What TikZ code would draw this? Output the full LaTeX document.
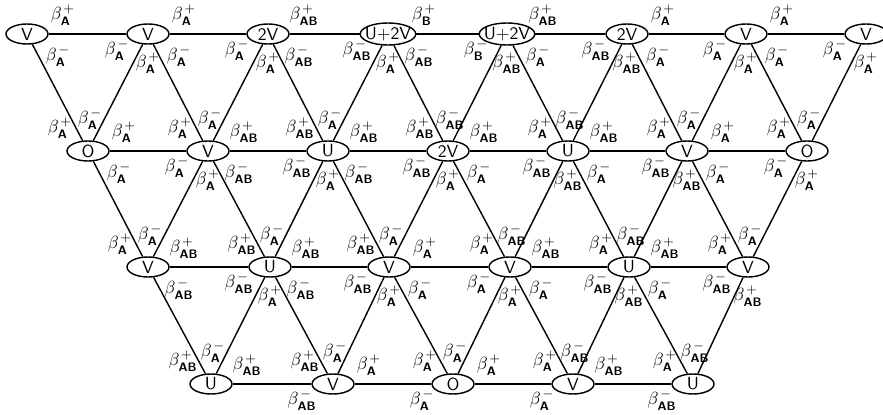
\documentclass[tikz,border=0pt]{standalone}
\usepackage{tikz}
\usepackage{amssymb}
\usepackage{amsmath}
\usetikzlibrary{shapes.geometric}
\newcommand{\blab}[2]{$\beta^{\mkern2mu#2}_{\textsf{\textbf{#1}}}$}

\begin{document}
\begin{tikzpicture}[x=0.02cm,y=-0.02cm,thick,
  st/.style={draw,ellipse,minimum width=0.84cm,minimum height=0.4cm,inner sep=0pt,font=\sffamily},
  wide/.style={st,inner xsep=-2pt,minimum width=1.1cm,minimum height=0.44cm},
  lab/.style={inner sep=0pt},
  lE/.style={lab,xshift=0.72cm,yshift=0.38cm},
  lNE/.style={lab,xshift=0.04cm,yshift=0.64cm},
  lNW/.style={lab,xshift=-0.56cm,yshift=0.46cm},
  lW/.style={lab,xshift=-0.62cm,yshift=-0.32cm},
  lSW/.style={lab,xshift=0cm,yshift=-0.58cm},
  lSE/.style={lab,xshift=0.62cm,yshift=-0.44cm}]
  \useasboundingbox (0,0) rectangle (883,415);
  \node[st]   (a1) at (27,34)  {V};
  \node[st]   (a2) at (148,34) {V};
  \node[st]   (a3) at (268,34) {2V};
  \node[wide] (a4) at (388,34) {U+2V};
  \node[wide] (a5) at (507,34) {U+2V};
  \node[st]   (a6) at (627,34) {2V};
  \node[st]   (a7) at (746,34) {V};
  \node[st]   (a8) at (866,34) {V};
  \node[st] (b1) at (88,151)  {O};
  \node[st] (b2) at (208,151) {V};
  \node[st] (b3) at (328,151) {U};
  \node[st] (b4) at (448,151) {2V};
  \node[st] (b5) at (568,151) {U};
  \node[st] (b6) at (687,151) {V};
  \node[st] (b7) at (807,151) {O};
  \node[st] (c1) at (148,267) {V};
  \node[st] (c2) at (270,267) {U};
  \node[st] (c3) at (389,267) {V};
  \node[st] (c4) at (510,267) {V};
  \node[st] (c5) at (629,267) {U};
  \node[st] (c6) at (748,267) {V};
  \node[st] (d1) at (211,384) {U};
  \node[st] (d2) at (333,384) {V};
  \node[st] (d3) at (453,384) {O};
  \node[st] (d4) at (573,384) {V};
  \node[st] (d5) at (693,384) {U};
  % rows
  \draw (a1) -- (a2) -- (a3) -- (a4) -- (a5) -- (a6) -- (a7) -- (a8);
  \draw (b1) -- (b2) -- (b3) -- (b4) -- (b5) -- (b6) -- (b7);
  \draw (c1) -- (c2) -- (c3) -- (c4) -- (c5) -- (c6);
  \draw (d1) -- (d2) -- (d3) -- (d4) -- (d5);
  % zigzags between rows
  \draw (a1) -- (b1) -- (a2) -- (b2) -- (a3) -- (b3) -- (a4) -- (b4) -- (a5) -- (b5) -- (a6) -- (b6) -- (a7) -- (b7) -- (a8);
  \draw (b1) -- (c1) -- (b2) -- (c2) -- (b3) -- (c3) -- (b4) -- (c4) -- (b5) -- (c5) -- (b6) -- (c6) -- (b7);
  \draw (c1) -- (d1) -- (c2) -- (d2) -- (c3) -- (d3) -- (c4) -- (d4) -- (c5) -- (d5) -- (c6);
  % end labels, top row
  \path (a1) node[lE] {\blab{A}{+}} node[lSE] {\blab{A}{-}};
  \path (a2) node[lW] {\blab{A}{-}} node[lSW] {\blab{A}{+}} node[lSE] {\blab{A}{-}} node[lE] {\blab{A}{+}};
  \path (a3) node[lW] {\blab{A}{-}} node[lSW] {\blab{A}{+}} node[lSE] {\blab{AB}{-}} node[lE] {\blab{AB}{+}};
  \path (a4) node[lW] {\blab{AB}{-}} node[lSW] {\blab{A}{+}} node[lSE] {\blab{AB}{-}} node[lE] {\blab{B}{+}};
  \path (a5) node[lW] {\blab{B}{-}} node[lSW] {\blab{AB}{+}} node[lSE] {\blab{A}{-}} node[lE] {\blab{AB}{+}};
  \path (a6) node[lW] {\blab{AB}{-}} node[lSW] {\blab{AB}{+}} node[lSE] {\blab{A}{-}} node[lE] {\blab{A}{+}};
  \path (a7) node[lW] {\blab{A}{-}} node[lSW] {\blab{A}{+}} node[lSE] {\blab{A}{-}} node[lE] {\blab{A}{+}};
  \path (a8) node[lW] {\blab{A}{-}} node[lSW] {\blab{A}{+}};
  % second row
  \path (b1) node[lNW] {\blab{A}{+}} node[lNE] {\blab{A}{-}} node[lE] {\blab{A}{+}} node[lSE] {\blab{A}{-}};
  \path (b2) node[lNW] {\blab{A}{+}} node[lNE] {\blab{A}{-}} node[lE] {\blab{AB}{+}}
             node[lW] {\blab{A}{-}} node[lSW] {\blab{A}{+}} node[lSE] {\blab{AB}{-}};
  \path (b3) node[lNW] {\blab{AB}{+}} node[lNE] {\blab{A}{-}} node[lE] {\blab{AB}{+}}
             node[lW] {\blab{AB}{-}} node[lSW] {\blab{A}{+}} node[lSE] {\blab{AB}{-}};
  \path (b4) node[lNW] {\blab{AB}{+}} node[lNE] {\blab{AB}{-}} node[lE] {\blab{AB}{+}}
             node[lW] {\blab{AB}{-}} node[lSW] {\blab{A}{+}} node[lSE] {\blab{A}{-}};
  \path (b5) node[lNW] {\blab{A}{+}} node[lNE] {\blab{AB}{-}} node[lE] {\blab{AB}{+}}
             node[lW] {\blab{AB}{-}} node[lSW] {\blab{AB}{+}} node[lSE] {\blab{A}{-}};
  \path (b6) node[lNW] {\blab{A}{+}} node[lNE] {\blab{A}{-}} node[lE] {\blab{A}{+}}
             node[lW] {\blab{AB}{-}} node[lSW] {\blab{AB}{+}} node[lSE] {\blab{A}{-}};
  \path (b7) node[lNW] {\blab{A}{+}} node[lNE] {\blab{A}{-}} node[lW] {\blab{A}{-}} node[lSW] {\blab{A}{+}};
  % third row
  \path (c1) node[lNW] {\blab{A}{+}} node[lNE] {\blab{A}{-}} node[lE] {\blab{AB}{+}} node[lSE] {\blab{AB}{-}};
  \path (c2) node[lNW] {\blab{AB}{+}} node[lNE] {\blab{A}{-}} node[lE] {\blab{AB}{+}}
             node[lW] {\blab{AB}{-}} node[lSW] {\blab{A}{+}} node[lSE] {\blab{AB}{-}};
  \path (c3) node[lNW] {\blab{AB}{+}} node[lNE] {\blab{A}{-}} node[lE] {\blab{A}{+}}
             node[lW] {\blab{AB}{-}} node[lSW] {\blab{A}{+}} node[lSE] {\blab{A}{-}};
  \path (c4) node[lNW] {\blab{A}{+}} node[lNE] {\blab{AB}{-}} node[lE] {\blab{AB}{+}}
             node[lW] {\blab{A}{-}} node[lSW] {\blab{A}{+}} node[lSE] {\blab{A}{-}};
  \path (c5) node[lNW] {\blab{A}{+}} node[lNE] {\blab{AB}{-}} node[lE] {\blab{AB}{+}}
             node[lW] {\blab{AB}{-}} node[lSW] {\blab{AB}{+}} node[lSE] {\blab{A}{-}};
  \path (c6) node[lNW] {\blab{A}{+}} node[lNE] {\blab{A}{-}} node[lW] {\blab{AB}{-}} node[lSW] {\blab{AB}{+}};
  % bottom row
  \path (d1) node[lNW] {\blab{AB}{+}} node[lNE] {\blab{A}{-}} node[lE] {\blab{AB}{+}};
  \path (d2) node[lNW] {\blab{AB}{+}} node[lNE] {\blab{A}{-}} node[lE] {\blab{A}{+}} node[lW] {\blab{AB}{-}};
  \path (d3) node[lNW] {\blab{A}{+}} node[lNE] {\blab{A}{-}} node[lE] {\blab{A}{+}} node[lW] {\blab{A}{-}};
  \path (d4) node[lNW] {\blab{A}{+}} node[lNE] {\blab{AB}{-}} node[lE] {\blab{AB}{+}} node[lW] {\blab{A}{-}};
  \path (d5) node[lNW] {\blab{A}{+}} node[lNE] {\blab{AB}{-}} node[lW] {\blab{AB}{-}};
\end{tikzpicture}
\end{document}
